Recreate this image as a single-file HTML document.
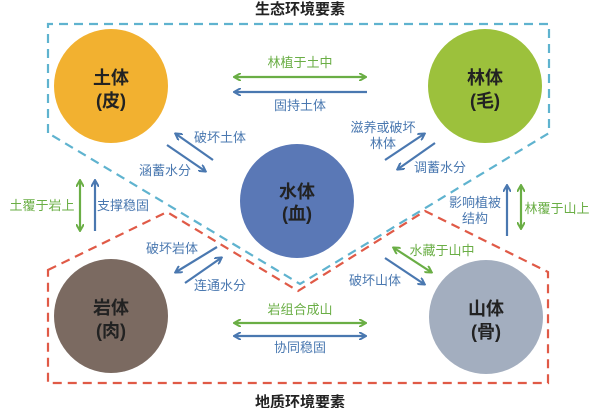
<!DOCTYPE html>
<html><head><meta charset="utf-8"><style>
html,body{margin:0;padding:0;background:#fff;}
svg{display:block;font-family:"Liberation Sans","Noto Sans CJK SC",sans-serif;}
</style></head><body>
<svg width="600" height="408" viewBox="0 0 600 408" xmlns="http://www.w3.org/2000/svg">
<defs>
<marker id="ag" markerWidth="8" markerHeight="8" refX="6" refY="4" orient="auto-start-reverse" markerUnits="userSpaceOnUse"><path d="M0,0 L7,4 L0,8" fill="none" stroke="#6aae45" stroke-width="2"/></marker>
<marker id="ab" markerWidth="8" markerHeight="8" refX="6" refY="4" orient="auto-start-reverse" markerUnits="userSpaceOnUse"><path d="M0,0 L7,4 L0,8" fill="none" stroke="#4a78b0" stroke-width="2"/></marker>
</defs>
<!-- blue dashed -->
<path d="M48,133 L48,24 L549,24 L549,133 L300,284 L48,133" fill="none" stroke="#5fb3cf" stroke-width="2.2" stroke-dasharray="9,6"/>
<!-- red dashed -->
<path d="M48,270 L167,212 L298,291 L425,211 L548,272 L548,383 L48,383 Z" fill="none" stroke="#e05a47" stroke-width="2.2" stroke-dasharray="9,6"/>
<!-- circles -->
<circle cx="111" cy="86" r="57" fill="#f2b130"/>
<circle cx="485" cy="86" r="57" fill="#9cc13c"/>
<circle cx="297" cy="201" r="57" fill="#5a78b6"/>
<circle cx="111" cy="316" r="57" fill="#7b6a61"/>
<circle cx="486" cy="317" r="57" fill="#a3aebf"/>
<g font-size="18" font-weight="bold" fill="#222" text-anchor="middle">
<text x="111" y="84">土体</text><text x="111" y="107">(皮)</text>
<text x="485" y="84">林体</text><text x="485" y="107">(毛)</text>
<text x="297" y="198">水体</text><text x="297" y="220">(血)</text>
<text x="111" y="314">岩体</text><text x="111" y="337">(肉)</text>
<text x="486" y="315">山体</text><text x="486" y="338">(骨)</text>
</g>
<g font-size="15" font-weight="bold" fill="#222" text-anchor="middle">
<text x="300" y="14">生态环境要素</text>
<text x="300" y="407">地质环境要素</text>
</g>
<!-- arrows -->
<g stroke-width="2.2" fill="none">
<line x1="235" y1="77" x2="365" y2="77" stroke="#6aae45" marker-start="url(#ag)" marker-end="url(#ag)"/>
<line x1="367" y1="92" x2="235" y2="92" stroke="#4a78b0" marker-end="url(#ab)"/>
<line x1="235" y1="323" x2="365" y2="323" stroke="#6aae45" marker-start="url(#ag)" marker-end="url(#ag)"/>
<line x1="235" y1="336" x2="365" y2="336" stroke="#4a78b0" marker-start="url(#ab)" marker-end="url(#ab)"/>
<line x1="213" y1="160" x2="176" y2="134" stroke="#4a78b0" marker-end="url(#ab)"/>
<line x1="167" y1="145" x2="205" y2="171" stroke="#4a78b0" marker-end="url(#ab)"/>
<line x1="385" y1="160" x2="424" y2="134" stroke="#4a78b0" marker-end="url(#ab)"/>
<line x1="435" y1="143" x2="398" y2="169" stroke="#4a78b0" marker-end="url(#ab)"/>
<line x1="80" y1="181" x2="80" y2="230" stroke="#6aae45" marker-start="url(#ag)" marker-end="url(#ag)"/>
<line x1="95" y1="231" x2="95" y2="181" stroke="#4a78b0" marker-end="url(#ab)"/>
<line x1="507" y1="236" x2="507" y2="186" stroke="#4a78b0" marker-end="url(#ab)"/>
<line x1="521" y1="186" x2="521" y2="228" stroke="#6aae45" marker-start="url(#ag)" marker-end="url(#ag)"/>
<line x1="217" y1="247" x2="176" y2="272" stroke="#4a78b0" marker-end="url(#ab)"/>
<line x1="185" y1="283" x2="221" y2="258" stroke="#4a78b0" marker-end="url(#ab)"/>
<line x1="394" y1="248" x2="431" y2="272" stroke="#6aae45" marker-start="url(#ag)" marker-end="url(#ag)"/>
<line x1="385" y1="258" x2="424" y2="284" stroke="#4a78b0" marker-end="url(#ab)"/>
</g>
<g font-size="13" text-anchor="middle">
<text x="300" y="67" fill="#6aae45">林植于土中</text>
<text x="300" y="110" fill="#4a78b0">固持土体</text>
<text x="300" y="314" fill="#6aae45">岩组合成山</text>
<text x="300" y="352" fill="#4a78b0">协同稳固</text>
<text x="220" y="142" fill="#4a78b0">破坏土体</text>
<text x="165" y="175" fill="#4a78b0">涵蓄水分</text>
<text x="383" y="132" fill="#4a78b0">滋养或破坏</text>
<text x="383" y="148" fill="#4a78b0">林体</text>
<text x="440" y="172" fill="#4a78b0">调蓄水分</text>
<text x="42" y="210" fill="#6aae45">土覆于岩上</text>
<text x="123" y="210" fill="#4a78b0">支撑稳固</text>
<text x="475" y="207" fill="#4a78b0">影响植被</text>
<text x="475" y="223" fill="#4a78b0">结构</text>
<text x="557" y="213" fill="#6aae45">林覆于山上</text>
<text x="172" y="253" fill="#4a78b0">破坏岩体</text>
<text x="220" y="290" fill="#4a78b0">连通水分</text>
<text x="442" y="255" fill="#6aae45">水藏于山中</text>
<text x="375" y="285" fill="#4a78b0">破坏山体</text>
</g>
</svg>
</body></html>
